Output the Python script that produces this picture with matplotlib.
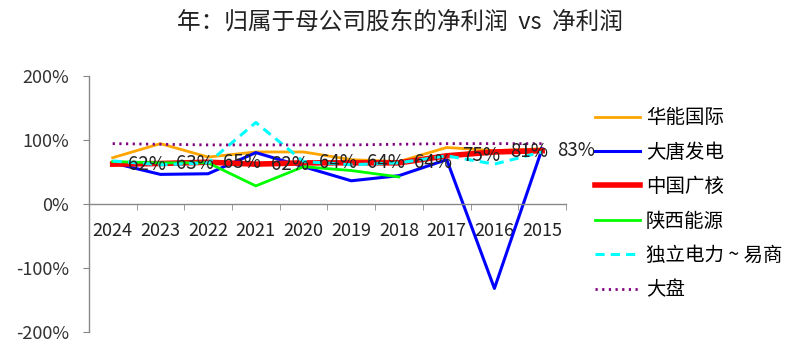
import numpy as np
import matplotlib
matplotlib.use('Agg')
import matplotlib.pyplot as plt

plt.rcParams['font.family'] = ['Noto Sans CJK SC', 'DejaVu Sans']
plt.rcParams['font.weight'] = 'light'

years = ['2024', '2023', '2022', '2021', '2020', '2019', '2018', '2017', '2016', '2015']

# values in %
huaneng = [72, 94, 73, 81, 81, 69, 66, 88, 83, 86]
datang = [64, 46, 47, 80, 58, 36, 44, 69, -132, 86]
cgn = [62, 63, 65, 62, 64, 64, 64, 75, 81, 83]
shaanxi = [66, 64, 64, 28, 58, 52, 42, np.nan, np.nan, np.nan]
duli = [67, 61, 64, 127, 66, 61, 64, 75, 62, 81]
dapan = [94, 93, 92, 92, 92, 92, 93, 94, 94, 94]

cgn_labels = ['62%', '63%', '65%', '62%', '64%', '64%', '64%', '75%', '81%', '83%']

fig = plt.figure(figsize=(8, 3.53), dpi=100)
ax = fig.add_axes([0.111, 0.0595, 0.5965, 0.726])

x = np.arange(len(years))
ax.plot(x, huaneng, color='#FFA500', lw=2.0, label='华能国际')
ax.plot(x, datang, color='#0000FF', lw=2.2, label='大唐发电')
ax.plot(x, cgn, color='#FF0000', lw=4.0, label='中国广核')
ax.plot(x, shaanxi, color='#00FF00', lw=2.0, label='陕西能源')
ax.plot(x, duli, color='#00FFFF', lw=2.2, ls=(0, (3, 2)), label='独立电力 ~ 易商')
ax.plot(x, dapan, color='#800080', lw=2.0, ls=(0, (0.8, 1.6)), label='大盘')

for xi, yi, lab in zip(x, cgn, cgn_labels):
    ax.annotate(lab, (xi, yi), xytext=(11, 0), textcoords='offset points',
                ha='left', va='center', fontsize=13.5, color='#222222')

ax.set_xlim(-0.5, len(years) - 0.5)
ax.set_ylim(-200, 200)
ax.set_yticks([-200, -100, 0, 100, 200])
ax.set_yticklabels(['-200%', '-100%', '0%', '100%', '200%'])

ax.spines['top'].set_visible(False)
ax.spines['right'].set_visible(False)
ax.spines['bottom'].set_position(('data', 0))
for s in ['left', 'bottom']:
    ax.spines[s].set_color('#888888')
    ax.spines[s].set_linewidth(1.0)

ax.set_xticks(x)
ax.set_xticklabels(years)
ax.set_xticks(np.arange(-0.5, len(years)), minor=True)
ax.tick_params(axis='x', which='major', length=0, pad=13, labelsize=13, colors='#222222')
ax.tick_params(axis='x', which='minor', length=4, direction='out', color='#888888')
ax.tick_params(axis='y', length=4, direction='out', color='#888888', pad=10,
               labelsize=13, labelcolor='#333333')

fig.suptitle('年：归属于母公司股东的净利润  vs  净利润', x=0.5, y=0.97, fontsize=17,
             color='#222222')

fig.legend(loc='upper left', bbox_to_anchor=(0.744, 0.696), frameon=False,
           fontsize=14, handlelength=2.3, handletextpad=0.3, labelspacing=0.69,
           borderpad=0, borderaxespad=0)

fig.savefig('out.png', dpi=100)
